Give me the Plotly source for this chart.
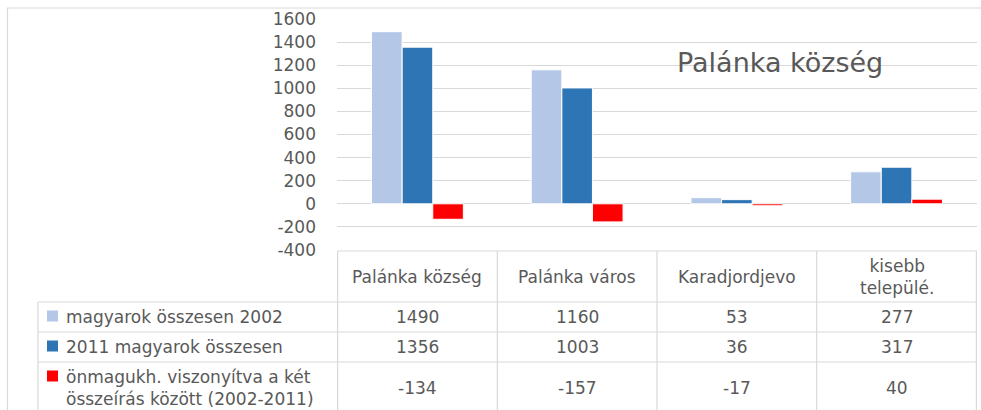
import plotly.graph_objects as go

categories = ["Palánka község", "Palánka város", "Karadjordjevo", "kisebb települé."]
header_labels = ["Palánka község", "Palánka város", "Karadjordjevo", "kisebb<br>települé."]
series_names = ["magyarok összesen 2002", "2011 magyarok összesen",
                "önmagukh. viszonyítva a két<br>összeírás között (2002-2011)"]
vals_2002 = [1490, 1160, 53, 277]
vals_2011 = [1356, 1003, 36, 317]
vals_diff = [-134, -157, -17, 40]
colors = ["#b4c7e7", "#2e75b6", "#ff0000"]
y_ticks = [-400, -200, 0, 200, 400, 600, 800, 1000, 1200, 1400, 1600]
y_tick_labels = [str(v) for v in y_ticks]

W, H = 981, 410
FONT = "DejaVu Sans"
TXT = "#595959"
GRID = "#d9d9d9"

def px(x):
    return x / W

def py(y):
    return 1 - y / H

fig = go.Figure()
for name, vals, col in zip(series_names, [vals_2002, vals_2011, vals_diff], colors):
    fig.add_trace(go.Bar(x=categories, y=vals, name=name, marker_color=col,
                         marker_line_color="white", marker_line_width=1, showlegend=False,
                         hoverinfo="skip"))

shapes = []
annotations = []

# outer chart border
shapes.append(dict(type="rect", xref="paper", yref="paper", x0=px(7.5), x1=px(990),
                   y0=py(420), y1=py(8), line=dict(color=GRID, width=1.2)))

# table horizontal lines
shapes.append(dict(type="line", xref="paper", yref="paper", x0=px(337), x1=px(977),
                   y0=py(251), y1=py(251), line=dict(color=GRID, width=1.2)))
for yy in [302, 332, 362]:
    shapes.append(dict(type="line", xref="paper", yref="paper", x0=px(38), x1=px(977),
                       y0=py(yy), y1=py(yy), line=dict(color=GRID, width=1.2)))
# vertical lines: category boundaries
n = len(categories)
for i in range(n + 1):
    shapes.append(dict(type="line", xref="x", yref="paper", x0=i - 0.5, x1=i - 0.5,
                       y0=py(251), y1=py(415), line=dict(color=GRID, width=1.2)))
shapes.append(dict(type="line", xref="paper", yref="paper", x0=px(38), x1=px(38),
                   y0=py(302), y1=py(415), line=dict(color=GRID, width=1.2)))

# header labels
for cat, lab in zip(categories, header_labels):
    annotations.append(dict(x=cat, xref="x", y=py(277), yref="paper", text=lab,
                            showarrow=False, font=dict(family=FONT, size=17, color=TXT),
                            xanchor="center", yanchor="middle"))

# row values & legend
row_centers = [317, 347, 388]
legend_sq = [316, 346, 376]
for r, (name, vals, col) in enumerate(zip(series_names, [vals_2002, vals_2011, vals_diff], colors)):
    for cat, v in zip(categories, vals):
        annotations.append(dict(x=cat, xref="x", y=py(row_centers[r]), yref="paper",
                                text=str(v), showarrow=False,
                                font=dict(family=FONT, size=17, color=TXT),
                                xanchor="center", yanchor="middle"))
    annotations.append(dict(x=px(64), xref="paper", y=py(row_centers[r]), yref="paper",
                            text=name, showarrow=False, align="left",
                            font=dict(family=FONT, size=17, color=TXT),
                            xanchor="left", yanchor="middle"))
    shapes.append(dict(type="rect", xref="paper", yref="paper", x0=px(47), x1=px(58),
                       y0=py(legend_sq[r] + 5.5), y1=py(legend_sq[r] - 5.5),
                       fillcolor=col, line=dict(width=0)))

# chart title
annotations.append(dict(x=px(780), xref="paper", y=py(62), yref="paper",
                        text="Palánka község", showarrow=False,
                        font=dict(family=FONT, size=27, color=TXT),
                        xanchor="center", yanchor="middle"))

fig.update_layout(
    width=W, height=H,
    margin=dict(l=0, r=0, t=0, b=0, pad=0, autoexpand=False),
    paper_bgcolor="white", plot_bgcolor="white",
    barmode="group", bargap=0.425, bargroupgap=0,
    shapes=shapes, annotations=annotations,
    font=dict(family=FONT, color=TXT),
    xaxis=dict(domain=[px(337), px(977)], showticklabels=False, showgrid=False,
               showline=False, zeroline=False, ticks="", automargin=False),
    yaxis=dict(domain=[py(250), py(19)], range=[-400, 1600], tickvals=y_ticks,
               ticktext=y_tick_labels, automargin=False,
               showgrid=True, gridcolor=GRID, gridwidth=1.2,
               zeroline=True, zerolinecolor=GRID, zerolinewidth=1.2,
               showline=False, ticks="", ticklabelstandoff=20,
               tickfont=dict(family=FONT, size=17, color=TXT)),
)

fig.write_html("out.html", config={"displayModeBar": False},
               post_script="document.body.style.margin='0';document.body.style.overflow='hidden';")
